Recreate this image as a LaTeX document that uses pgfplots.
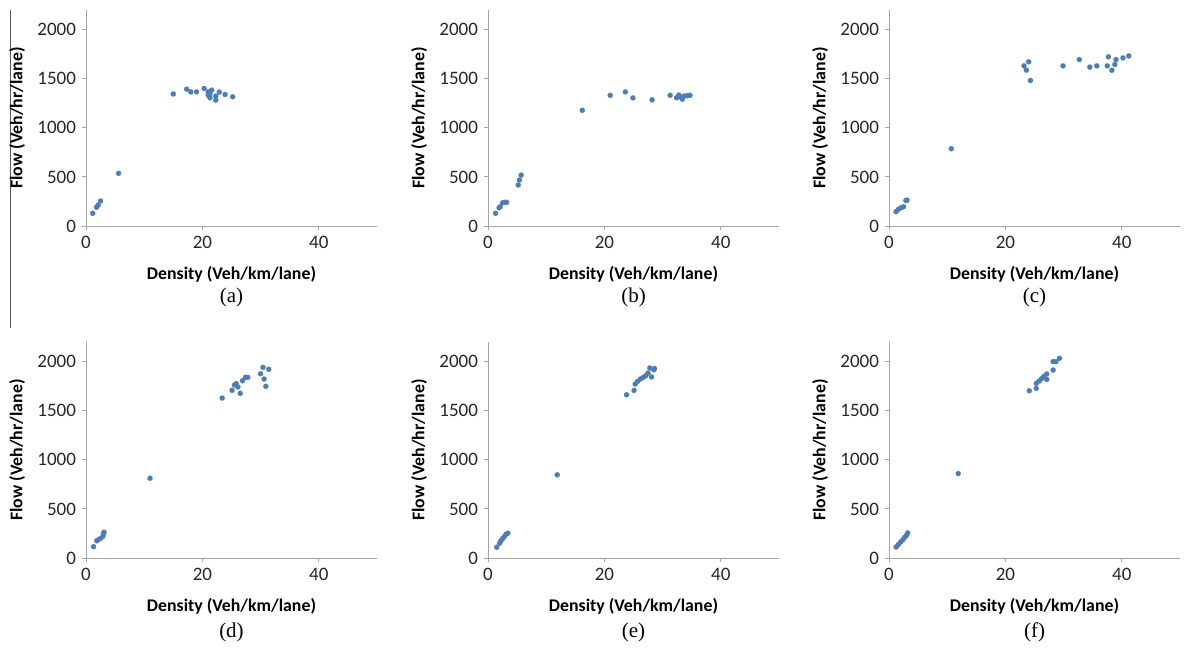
\documentclass[border=0pt]{standalone}
\usepackage{fontspec}
\setmainfont{Carlito}
\newfontfamily\capfont{Liberation Serif}
\usepackage{pgfplots}
\pgfplotsset{compat=1.18}
\definecolor{ptblue}{RGB}{74,126,187}
\definecolor{axgray}{RGB}{165,165,165}
\tikzset{subcap/.style={font=\capfont\fontsize{21bp}{24bp}\selectfont}}
\pgfplotsset{
 panel/.style={
  scale only axis, width=291bp, height=216bp, anchor=south west,
  xmin=0,xmax=50,ymin=0,ymax=2200,
  axis x line=bottom, axis y line=left,
  axis line style={-,axgray,line width=0.9bp},
  xtick={0,20,40}, ytick={0,500,1000,1500,2000},
  tick align=outside, major tick length=4bp, tick style={axgray,line width=0.9bp},
  ticklabel style={font=\fontsize{19bp}{22bp}\selectfont, text=black!85},
  xticklabel style={yshift=-3bp},
  yticklabel style={xshift=-2.5bp},
  /pgf/number format/assume math mode=true,
  /pgf/number format/1000 sep={},
  scaled ticks=false,
  xlabel={Density (Veh/km/lane)}, ylabel={Flow (Veh/hr/lane)},
  label style={font=\bfseries\fontsize{17.8bp}{20bp}\selectfont},
  xlabel style={at={(axis description cs:0.5,-0.222)},anchor=center},
  ylabel style={at={(axis description cs:-0.237,0.5)},anchor=center},
  clip=false,
 },
 dots/.style={only marks, mark=*, color=ptblue, mark size=2.6bp, line width=0.1bp, mark options={solid,fill=ptblue,draw=ptblue}},
}
\begin{document}
\begin{tikzpicture}
\useasboundingbox (0,0) rectangle (1186bp,649bp);
\draw[black!65, line width=1bp] (10bp,639bp) -- (10bp,321bp);
% (a)
\begin{axis}[panel, at={(86bp,423bp)}]
\addplot[dots] coordinates {
(1.15,129) (1.8,190) (2.1,214) (2.5,255) (5.6,536)
(15.0,1345) (17.3,1394) (18.0,1366) (19.0,1366) (20.3,1401) (21.0,1367) (21.6,1384)
(21.3,1343) (21.3,1306) (22.3,1323) (22.3,1282) (22.9,1364) (23.9,1340) (25.2,1316) (21.0,1333)
};
\node[subcap] at (axis description cs:0.5,-0.329) {(a)};
\end{axis}
% (b)
\begin{axis}[panel, at={(488bp,423bp)}]
\addplot[dots] coordinates {
(1.3,129) (1.9,186) (2.1,196) (2.5,237) (2.9,241) (3.2,241) (5.2,417) (5.4,468) (5.7,519)
(16.2,1178) (21.0,1331) (23.6,1366) (24.9,1305) (28.2,1285) (31.3,1331)
(32.4,1306) (32.8,1334) (33.2,1310) (33.7,1323) (34.2,1327) (34.7,1331) (33.4,1292)
};
\node[subcap] at (axis description cs:0.5,-0.329) {(b)};
\end{axis}
% (c)
\begin{axis}[panel, at={(889bp,423bp)}]
\addplot[dots] coordinates {
(1.2,146) (1.6,169) (2.07,186) (2.5,196) (2.9,260) (3.1,264) (10.7,787)
(23.2,1631) (23.6,1587) (24.0,1672) (24.3,1482) (29.9,1631) (32.7,1695) (34.5,1618)
(35.7,1631) (37.5,1631) (37.7,1723) (38.3,1587) (38.8,1645) (39.0,1695) (40.2,1712) (41.2,1732)
};
\node[subcap] at (axis description cs:0.5,-0.329) {(c)};
\end{axis}
% (d)
\begin{axis}[panel, at={(86bp,91bp)}]
\addplot[dots] coordinates {
(1.3,115) (1.85,176) (2.1,186) (2.5,200) (2.9,220) (3.0,248) (3.1,262) (11.0,812)
(23.4,1629) (25.1,1708) (25.5,1762) (25.8,1776) (26.1,1742) (26.5,1677) (26.9,1806)
(27.4,1840) (27.8,1840) (30.0,1877) (30.4,1942) (30.6,1823) (30.9,1749) (31.4,1922)
};
\node[subcap] at (axis description cs:0.5,-0.343) {(d)};
\end{axis}
% (e)
\begin{axis}[panel, at={(488bp,91bp)}]
\addplot[dots] coordinates {
(1.5,109) (2.0,150) (2.2,174) (2.5,197) (2.8,218) (3.1,241) (3.4,252) (11.9,847)
(23.8,1663) (25.1,1707) (25.3,1772) (25.7,1799) (26.2,1823) (26.7,1840) (27.1,1857)
(27.5,1884) (27.8,1935) (28.1,1844) (28.5,1918) (28.6,1930)
};
\node[subcap] at (axis description cs:0.5,-0.343) {(e)};
\end{axis}
% (f)
\begin{axis}[panel, at={(889bp,91bp)}]
\addplot[dots] coordinates {
(1.22,112) (1.6,136) (2.0,163) (2.4,187) (2.7,211) (3.0,231) (3.2,255) (11.9,860)
(24.1,1704) (25.3,1727) (25.3,1778) (25.8,1802) (26.2,1826) (26.6,1850) (27.1,1874)
(27.1,1819) (28.2,1914) (28.2,2000) (28.7,2000) (29.3,2034)
};
\node[subcap] at (axis description cs:0.5,-0.343) {(f)};
\end{axis}
\end{tikzpicture}
\end{document}
